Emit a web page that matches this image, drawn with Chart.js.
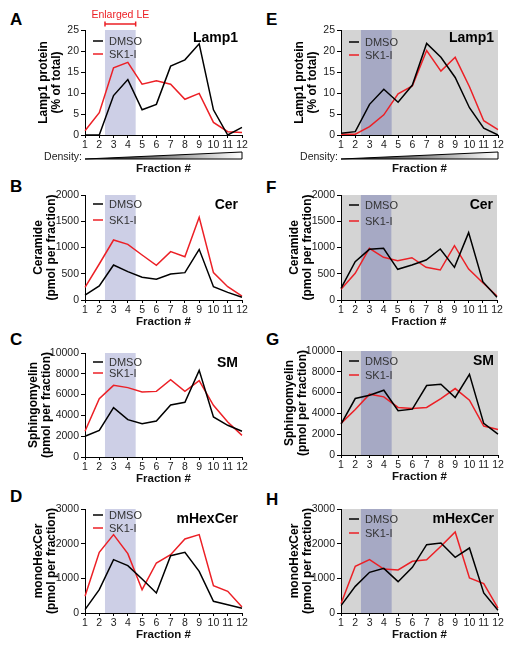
<!DOCTYPE html>
<html>
<head>
<meta charset="utf-8">
<title>Lamp1 and sphingolipid distribution across fractions</title>
<script src="https://cdn.jsdelivr.net/npm/chart.js"></script>
<style>
  html, body { margin: 0; padding: 0; background: #fff; }
  #fig { position: relative; width: 512px; height: 651px; overflow: hidden; font-family: 'Liberation Sans', Arial, sans-serif; }
  #fig canvas { position: absolute; }
  .letter { position: absolute; font-size: 17px; line-height: 17px; font-weight: bold; color: #000; }
</style>
</head>
<body>
<div id="fig">
  <div class="letter" style="left:10px;top:11px">A</div>
  <div class="letter" style="left:10px;top:178px">B</div>
  <div class="letter" style="left:10px;top:331px">C</div>
  <div class="letter" style="left:10px;top:488px">D</div>
  <div class="letter" style="left:266px;top:11px">E</div>
  <div class="letter" style="left:266px;top:179px">F</div>
  <div class="letter" style="left:266px;top:331px">G</div>
  <div class="letter" style="left:266px;top:491px">H</div>
</div>
<script>
// x categories
const fractions = ['1', '2', '3', '4', '5', '6', '7', '8', '9', '10', '11', '12'];
const seriesNames = ['DMSO', 'SK1-I'];

// left column (A-D)
const lamp1DmsoA = [0, 0, 9.4, 13.2, 6.0, 7.3, 16.4, 17.9, 21.7, 6.0, 0, 1.8];
const lamp1Sk1iA = [1.0, 5.3, 16.0, 17.3, 12.1, 12.9, 12.1, 8.5, 9.9, 3.0, 0.8, 0.6];
const cerDmsoB = [95, 267, 667, 540, 432, 394, 495, 521, 965, 254, 146, 51];
const cerSk1iB = [241, 686, 1143, 1060, 857, 660, 921, 825, 1575, 521, 254, 76];
const smDmsoC = [1990, 2560, 4740, 3590, 3210, 3460, 5000, 5260, 8330, 3850, 3050, 2470];
const smSk1iC = [2470, 5610, 6890, 6670, 6250, 6310, 7440, 6310, 7340, 4970, 3370, 2080];
const hexDmsoD = [96, 673, 1538, 1365, 981, 577, 1654, 1750, 1202, 337, 240, 135];
const hexSk1iD = [481, 1750, 2260, 1712, 673, 1442, 1683, 2135, 2260, 788, 625, 173];

// right column (E-H)
const lamp1DmsoE = [0.4, 0.8, 7.3, 10.9, 7.8, 11.9, 21.8, 18.5, 13.7, 6.5, 1.6, 0];
const lamp1Sk1iE = [0.2, 0.2, 2.0, 4.8, 9.8, 11.7, 20.1, 15.2, 18.5, 11.5, 3.4, 1.3];
const cerDmsoF = [222, 730, 965, 984, 584, 667, 762, 971, 622, 1283, 349, 51];
const cerSk1iF = [203, 508, 984, 813, 749, 806, 622, 571, 1035, 590, 330, 76];
const smDmsoG = [2970, 5430, 5750, 6230, 4250, 4410, 6680, 6810, 5530, 7760, 3040, 2010];
const smSk1iG = [3040, 4380, 5850, 5590, 4570, 4470, 4570, 5430, 6390, 5270, 2780, 2460];
const hexDmsoH = [212, 769, 1173, 1288, 904, 1317, 1971, 2019, 1606, 1875, 577, 77];
const hexSk1iH = [269, 1346, 1538, 1269, 1240, 1490, 1538, 1923, 2337, 1010, 846, 144];

// enlarged LE band (in fraction units)
const bandRange = [2.4, 4.55];

const RED = 'rgb(236,32,38)';
const FONT = "'Liberation Sans', Arial, sans-serif";
Chart.defaults.font.family = FONT;
Chart.defaults.color = '#222';

function makePanel(p) {
  const plotW = p.x1 - p.x0, plotH = p.y1 - p.y0;
  const padTop = p.padTop, padRight = 14, padBottom = 2;
  const canvas = document.createElement('canvas');
  canvas.width = 85 + plotW + padRight;
  canvas.height = padTop + plotH + p.xAxisH + padBottom;
  canvas.style.left = (p.x0 - 85) + 'px';
  canvas.style.top = (p.y0 - padTop) + 'px';
  document.getElementById('fig').appendChild(canvas);

  const decor = {
    id: 'decor',
    beforeDraw(chart) {
      const ctx = chart.ctx, a = chart.chartArea, xs = chart.scales.x;
      ctx.save();
      if (p.gray) {
        ctx.fillStyle = 'rgb(212,212,212)';
        ctx.fillRect(a.left, a.top, a.right - a.left, a.bottom - a.top);
      }
      const bx0 = xs.getPixelForValue(bandRange[0] - 1);
      const bx1 = xs.getPixelForValue(bandRange[1] - 1);
      ctx.fillStyle = p.gray ? 'rgb(166,169,196)' : 'rgb(205,207,230)';
      ctx.fillRect(bx0, a.top, bx1 - bx0, a.bottom - a.top);
      ctx.restore();
    },
    afterDatasetsDraw(chart) {
      const ctx = chart.ctx, a = chart.chartArea;
      ctx.save();
      // legend inside plot
      chart.data.datasets.forEach((ds, i) => {
        const y = a.top + p.legendY[i];
        ctx.strokeStyle = ds.borderColor;
        ctx.lineWidth = 1.5;
        ctx.beginPath();
        ctx.moveTo(a.left + 8, y);
        ctx.lineTo(a.left + 18, y);
        ctx.stroke();
        ctx.fillStyle = '#333';
        ctx.font = '11px ' + FONT;
        ctx.textBaseline = 'middle';
        ctx.textAlign = 'left';
        ctx.fillText(ds.label, a.left + 24, y + 0.5);
      });
      // panel title
      ctx.fillStyle = '#000';
      ctx.font = 'bold 14px ' + FONT;
      ctx.textAlign = 'right';
      ctx.textBaseline = 'middle';
      ctx.fillText(p.name, a.right - 4, a.top + p.nameY);
      ctx.restore();
    },
    afterDraw(chart) {
      const ctx = chart.ctx, a = chart.chartArea, xs = chart.scales.x;
      ctx.save();
      if (p.density) {
        ctx.fillStyle = '#222';
        ctx.font = '10.5px ' + FONT;
        ctx.textAlign = 'right';
        ctx.textBaseline = 'middle';
        ctx.fillText('Density:', a.left - 3, a.bottom + 22);
        const g = ctx.createLinearGradient(a.left, 0, a.right, 0);
        g.addColorStop(0, '#111');
        g.addColorStop(1, '#fff');
        ctx.beginPath();
        ctx.moveTo(a.left, a.bottom + 24);
        ctx.lineTo(a.right, a.bottom + 17);
        ctx.lineTo(a.right, a.bottom + 24);
        ctx.closePath();
        ctx.fillStyle = g;
        ctx.fill();
        ctx.strokeStyle = '#000';
        ctx.lineWidth = 1;
        ctx.stroke();
      }
      if (p.enlarged) {
        const bx0 = xs.getPixelForValue(bandRange[0] - 1);
        const bx1 = xs.getPixelForValue(bandRange[1] - 1);
        const y = a.top - 6;
        ctx.strokeStyle = RED;
        ctx.lineWidth = 1.5;
        ctx.beginPath();
        ctx.moveTo(bx0, y); ctx.lineTo(bx1, y);
        ctx.moveTo(bx0, y - 2.5); ctx.lineTo(bx0, y + 2.5);
        ctx.moveTo(bx1, y - 2.5); ctx.lineTo(bx1, y + 2.5);
        ctx.stroke();
        ctx.fillStyle = RED;
        ctx.font = '10.5px ' + FONT;
        ctx.textAlign = 'center';
        ctx.textBaseline = 'middle';
        ctx.fillText('Enlarged LE', (bx0 + bx1) / 2, a.top - 15);
      }
      ctx.restore();
    }
  };

  return new Chart(canvas, {
    type: 'line',
    data: {
      labels: fractions,
      datasets: [
        { label: seriesNames[0], data: p.dmso, borderColor: '#000', backgroundColor: '#000' },
        { label: seriesNames[1], data: p.sk1i, borderColor: RED, backgroundColor: RED }
      ]
    },
    options: {
      responsive: false,
      animation: false,
      events: [],
      elements: {
        line: { borderWidth: 1.5, tension: 0 },
        point: { radius: 0 }
      },
      layout: { padding: { left: p.padLeft, right: padRight, top: padTop, bottom: padBottom } },
      plugins: { legend: { display: false }, tooltip: { enabled: false } },
      scales: {
        x: {
          offset: false,
          grid: { drawOnChartArea: false, drawTicks: true, tickLength: 3, color: '#000', offset: false },
          border: { display: true, color: '#000', width: 1 },
          ticks: { font: { size: 10.5 }, padding: 1, maxRotation: 0, autoSkip: false, color: '#222' },
          title: { display: true, text: 'Fraction #', font: { size: 11.5, weight: 'bold' }, color: '#111', padding: 0 },
          afterFit(s) { s.height = p.xAxisH; }
        },
        y: {
          min: 0, max: p.yMax,
          grid: { drawOnChartArea: false, drawTicks: true, tickLength: 4, color: '#000' },
          border: { display: true, color: '#000', width: 1 },
          ticks: { stepSize: p.yStep, font: { size: 10.5 }, padding: 2, color: '#222', callback: v => String(v) },
          title: { display: true, text: p.yTitle, font: { size: 12, weight: 'bold', lineHeight: 1.1 }, color: '#000', padding: 0 },
          afterFit(s) { s.width = 85 - p.padLeft; }
        }
      }
    },
    plugins: [decor]
  });
}

const lampTitle = ['Lamp1 protein', '(% of total)'];
const cerTitle = ['Ceramide', '(pmol per fraction)'];
const smTitle = ['Sphingomyelin', '(pmol per fraction)'];
const hexTitle = ['monoHexCer', '(pmol per fraction)'];

// left column
makePanel({ x0: 85, x1: 242, y0: 30, y1: 135, padTop: 30, xAxisH: 41, padLeft: 37, density: true, enlarged: true,
  dmso: lamp1DmsoA, sk1i: lamp1Sk1iA, yMax: 25, yStep: 5, yTitle: lampTitle, name: 'Lamp1', nameY: 8, legendY: [11, 24] });
makePanel({ x0: 85, x1: 242, y0: 195, y1: 300, padTop: 20, xAxisH: 29, padLeft: 32,
  dmso: cerDmsoB, sk1i: cerSk1iB, yMax: 2000, yStep: 500, yTitle: cerTitle, name: 'Cer', nameY: 10, legendY: [9, 25] });
makePanel({ x0: 85, x1: 242, y0: 353, y1: 457, padTop: 20, xAxisH: 29, padLeft: 27,
  dmso: smDmsoC, sk1i: smSk1iC, yMax: 10000, yStep: 2000, yTitle: smTitle, name: 'SM', nameY: 10, legendY: [9, 20] });
makePanel({ x0: 85, x1: 242, y0: 509, y1: 613, padTop: 20, xAxisH: 29, padLeft: 32,
  dmso: hexDmsoD, sk1i: hexSk1iD, yMax: 3000, yStep: 1000, yTitle: hexTitle, name: 'mHexCer', nameY: 10, legendY: [6, 19] });

// right column
makePanel({ x0: 341, x1: 498, y0: 30, y1: 135, padTop: 30, xAxisH: 41, padLeft: 37, density: true, gray: true,
  dmso: lamp1DmsoE, sk1i: lamp1Sk1iE, yMax: 25, yStep: 5, yTitle: lampTitle, name: 'Lamp1', nameY: 8, legendY: [12, 25] });
makePanel({ x0: 341, x1: 497, y0: 195, y1: 300, padTop: 20, xAxisH: 29, padLeft: 32, gray: true,
  dmso: cerDmsoF, sk1i: cerSk1iF, yMax: 2000, yStep: 500, yTitle: cerTitle, name: 'Cer', nameY: 10, legendY: [10, 26] });
makePanel({ x0: 341, x1: 498, y0: 351, y1: 455, padTop: 20, xAxisH: 29, padLeft: 27, gray: true,
  dmso: smDmsoG, sk1i: smSk1iG, yMax: 10000, yStep: 2000, yTitle: smTitle, name: 'SM', nameY: 10, legendY: [10, 24] });
makePanel({ x0: 341, x1: 498, y0: 509, y1: 613, padTop: 20, xAxisH: 29, padLeft: 32, gray: true,
  dmso: hexDmsoH, sk1i: hexSk1iH, yMax: 3000, yStep: 1000, yTitle: hexTitle, name: 'mHexCer', nameY: 10, legendY: [10, 24] });
</script>
</body>
</html>
